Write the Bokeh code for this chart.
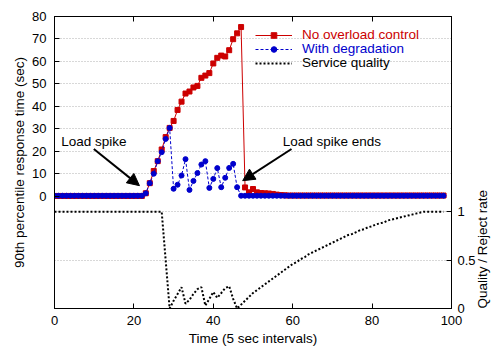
import math
from bokeh.plotting import figure
from bokeh.models import (Range1d, LinearAxis, FixedTicker, Grid, Legend, LegendItem,
                          Arrow, NormalHead, Label)
from bokeh.embed import file_html
from bokeh.resources import INLINE

FONT = "Liberation Sans"
RED = "#cc0000"
BLUE = "#0000cc"

# ---------------- data ----------------
time = list(range(99))

no_control = [
    0.1, 0.1, 0.1, 0.1, 0.1, 0.1, 0.1, 0.1, 0.1, 0.1,
    0.1, 0.1, 0.1, 0.1, 0.1, 0.1, 0.1, 0.1, 0.1, 0.1,
    0.1, 0.1, 0.1, 1.3, 5.8, 11.2, 15.6, 20.8, 26.3, 30.4,
    33.5, 38.4, 42.1, 45.7, 46.6, 48.4, 49.1, 52.7, 53.7, 54.8,
    59.1, 61.6, 62.6, 62.2, 65.0, 69.9, 72.5, 75.3, 3.9, 1.7,
    3.2, 1.7, 1.4, 1.3, 1.2, 1.0, 0.7, 0.5, 0.4, 0.3,
    0.3, 0.3, 0.3, 0.3, 0.3, 0.3, 0.3, 0.3, 0.3, 0.3,
    0.3, 0.3, 0.3, 0.3, 0.3, 0.3, 0.3, 0.3, 0.3, 0.3,
    0.3, 0.3, 0.3, 0.3, 0.3, 0.3, 0.3, 0.3, 0.3, 0.3,
    0.3, 0.3, 0.3, 0.3, 0.3, 0.3, 0.3, 0.3, 0.3,
]

degradation = [
    0.2, 0.2, 0.2, 0.2, 0.2, 0.2, 0.2, 0.2, 0.2, 0.2,
    0.2, 0.2, 0.2, 0.2, 0.2, 0.2, 0.2, 0.2, 0.2, 0.2,
    0.2, 0.2, 0.2, 1.3, 5.8, 10.0, 15.6, 19.6, 25.5, 30.4,
    3.3, 5.1, 9.2, 16.5, 2.8, 6.8, 10.3, 14.1, 15.6, 3.7,
    7.7, 12.5, 4.0, 8.2, 12.6, 14.4, 4.0, 0.2, 0.2, 0.2,
    0.2, 0.2, 0.2, 0.2, 0.2, 0.2, 0.2, 0.2, 0.2, 0.2,
    0.2, 0.2, 0.2, 0.2, 0.2, 0.2, 0.2, 0.2, 0.2, 0.2,
    0.2, 0.2, 0.2, 0.2, 0.2, 0.2, 0.2, 0.2, 0.2, 0.2,
    0.2, 0.2, 0.2, 0.2, 0.2, 0.2, 0.2, 0.2, 0.2, 0.2,
    0.2, 0.2, 0.2, 0.2, 0.2, 0.2, 0.2, 0.2, 0.2,
]

quality = [
    1.0, 1.0, 1.0, 1.0, 1.0, 1.0, 1.0, 1.0, 1.0, 1.0,
    1.0, 1.0, 1.0, 1.0, 1.0, 1.0, 1.0, 1.0, 1.0, 1.0,
    1.0, 1.0, 1.0, 1.0, 1.0, 1.0, 1.0, 1.0, 0.5, 0.0,
    0.08, 0.15, 0.22, 0.05, 0.09, 0.15, 0.20, 0.22, 0.03, 0.10,
    0.17, 0.11, 0.16, 0.21, 0.23, 0.10, 0.0, 0.04, 0.08, 0.12,
    0.16, 0.19, 0.22, 0.25, 0.28, 0.31, 0.34, 0.37, 0.40, 0.43,
    0.46, 0.48, 0.51, 0.53, 0.56, 0.58, 0.60, 0.62, 0.64, 0.66,
    0.68, 0.70, 0.72, 0.74, 0.76, 0.77, 0.79, 0.81, 0.82, 0.84,
    0.85, 0.87, 0.88, 0.89, 0.91, 0.92, 0.93, 0.94, 0.95, 0.96,
    0.97, 0.98, 0.99, 1.0, 1.0, 1.0, 1.0, 1.0, 1.0,
]

x_ticks = [0, 20, 40, 60, 80, 100]
y_ticks = [0, 10, 20, 30, 40, 50, 60, 70, 80]
y_grid = [10, 20, 30, 40, 50, 60, 70]
q_ticks = [0, 0.5, 1]
q_grid = [0.5, 1]

series_labels = ["No overload control", "With degradation", "Service quality"]

# ---------------- figure ----------------
p = figure(width=500, height=350, output_backend="svg", toolbar_location=None,
           x_range=Range1d(0, 100), y_range=Range1d(-50, 80),
           min_border_left=54, min_border_right=48, min_border_top=16,
           min_border_bottom=42)
p.extra_y_ranges = {"q": Range1d(0, 3.017)}
p.background_fill_color = "white"
p.border_fill_color = "white"
p.outline_line_color = "black"
p.outline_line_width = 1
p.outline_line_alpha = 1.0


def style_axis(ax):
    ax.axis_line_color = "black"
    ax.major_tick_in = 5
    ax.major_tick_out = 0
    ax.major_tick_line_color = "black"
    ax.minor_tick_line_color = None
    ax.major_label_text_font = FONT
    ax.major_label_text_font_size = "13px"
    ax.major_label_text_color = "black"
    ax.axis_label_text_font = FONT
    ax.axis_label_text_font_size = "13.5px"
    ax.axis_label_text_font_style = "normal"
    ax.axis_label_text_color = "black"


xa = p.xaxis[0]
xa.ticker = FixedTicker(ticks=x_ticks)
xa.axis_label = "Time (5 sec intervals)"
style_axis(xa)
xa.major_label_standoff = 7
xa.axis_label_standoff = 3

ya = p.yaxis[0]
ya.ticker = FixedTicker(ticks=y_ticks)
ya.axis_label = "90th percentile response time (sec)"
style_axis(ya)
ya.major_label_standoff = 8
ya.axis_label_standoff = 2

ra = LinearAxis(y_range_name="q", ticker=FixedTicker(ticks=q_ticks))
style_axis(ra)
ra.major_label_standoff = 6
ra.axis_label = "Quality / Reject rate"
ra.axis_label_standoff = 4
props = ra.properties()
if "axis_label_orientation" in props:
    ra.axis_label_orientation = math.pi / 2
if "axis_label_align" in props:
    ra.axis_label_align = "start"
p.add_layout(ra, "right")

# mirrored tick marks on top (no labels)
ta = LinearAxis(ticker=FixedTicker(ticks=x_ticks))
style_axis(ta)
ta.major_label_text_font_size = "6px"
ta.major_label_text_color = None
ta.major_label_standoff = 0
p.add_layout(ta, "above")

p.xgrid.visible = False
p.ygrid.ticker = FixedTicker(ticks=y_grid)
p.ygrid.grid_line_color = "#b0b0b0"
p.ygrid.grid_line_dash = "1 2"
p.ygrid.grid_line_width = 1

qg = Grid(dimension=1, ticker=FixedTicker(ticks=q_grid), y_range_name="q",
          grid_line_color="#b0b0b0", grid_line_dash="1 2", grid_line_width=1)
p.add_layout(qg)

# ---------------- series ----------------
r_line = p.line(time, no_control, line_color=RED, line_width=1)
r_pts = p.scatter(time, no_control, marker="square", size=5,
                  fill_color=RED, line_color=RED)
b_line = p.line(time, degradation, line_color=BLUE, line_width=1, line_dash="3 2")
b_pts = p.scatter(time, degradation, marker="circle", size=5,
                  fill_color=BLUE, line_color=BLUE)
q_line = p.line(time, quality, line_color="black", line_width=2,
                line_dash="2 2", y_range_name="q")

# ---------------- legends ----------------
leg_specs = [
    (series_labels[0], [r_line, r_pts], RED, 266),
    (series_labels[1], [b_line, b_pts], BLUE, 252),
    (series_labels[2], [q_line], "black", 238),
]
for lab, rends, col, ypos in leg_specs:
    lg = Legend(items=[LegendItem(label=lab, renderers=rends)],
                location=(201, ypos), orientation="vertical",
                glyph_width=37, glyph_height=14, label_height=14,
                label_standoff=10, padding=0, margin=0, spacing=0,
                border_line_color=None, background_fill_alpha=0,
                label_text_font=FONT, label_text_font_size="13.5px",
                label_text_color=col, label_text_baseline="middle")
    p.add_layout(lg)

# ---------------- annotations ----------------
p.add_layout(Label(x=1.7, y=24.4, text="Load spike", text_font=FONT,
                   text_font_size="13.5px", text_color="black",
                   text_baseline="middle", text_align="left"))
p.add_layout(Label(x=57.5, y=24.4, text="Load spike ends", text_font=FONT,
                   text_font_size="13.5px", text_color="black",
                   text_baseline="middle", text_align="left"))
p.add_layout(Arrow(end=NormalHead(size=12, fill_color="black", line_color="black"),
                   x_start=9.9, y_start=21.0, x_end=21.4, y_end=4.7,
                   line_color="black", line_width=2))
p.add_layout(Arrow(end=NormalHead(size=12, fill_color="black", line_color="black"),
                   x_start=59.7, y_start=21.0, x_end=47.4, y_end=6.9,
                   line_color="black", line_width=2))

open("out.html", "w").write(file_html(p, INLINE))
